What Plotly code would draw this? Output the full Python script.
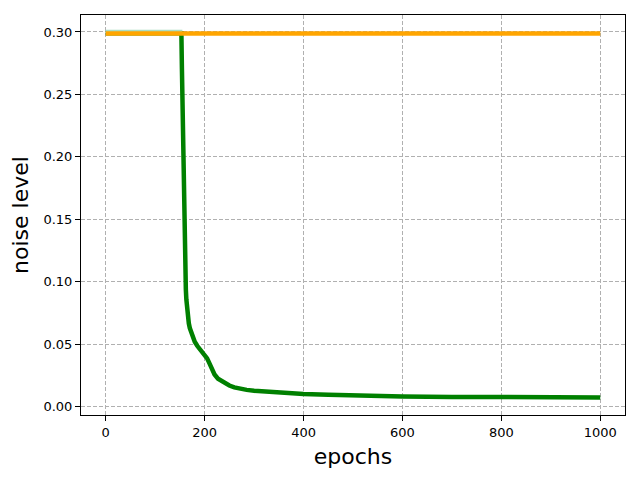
import plotly.graph_objects as go

# data
pale_epochs = [0, 155]
pale_values = [0.3005, 0.3005]

green_epochs = [0, 153, 154, 155, 156, 157, 158, 159, 160, 161, 162, 163, 164, 165, 166, 168,
                170, 173, 176, 180, 185, 190, 195, 200, 205, 210, 215, 220, 227, 234, 242, 250,
                260, 270, 285, 300, 330, 358, 400, 450, 493, 550, 600, 700, 800, 900, 1000]
green_values = [0.299, 0.299, 0.272, 0.245, 0.215, 0.185, 0.16, 0.138, 0.12, 0.105, 0.094, 0.086,
                0.08, 0.0755, 0.0718, 0.0668, 0.063, 0.0588, 0.0555, 0.052, 0.0488, 0.0462,
                0.0441, 0.0417, 0.0387, 0.0345, 0.0297, 0.0258, 0.0225, 0.0205, 0.0185, 0.017,
                0.0155, 0.0145, 0.0135, 0.0128, 0.0118, 0.0112, 0.0103, 0.0096, 0.009, 0.0086,
                0.0083, 0.0079, 0.0077, 0.0076, 0.0075]

orange_epochs = [0, 1000]
orange_values = [0.2988, 0.2988]

x_ticks = [0, 200, 400, 600, 800, 1000]
y_ticks = [0.00, 0.05, 0.10, 0.15, 0.20, 0.25, 0.30]

fig = go.Figure()
fig.add_trace(go.Scatter(x=green_epochs, y=green_values, mode="lines",
                         line=dict(color="green", width=4.5), showlegend=False))
fig.add_trace(go.Scatter(x=pale_epochs, y=pale_values, mode="lines",
                         line=dict(color="#a9dcc0", width=3), showlegend=False))
fig.add_trace(go.Scatter(x=orange_epochs, y=orange_values, mode="lines",
                         line=dict(color="orange", width=4.5), showlegend=False))

axis_common = dict(
    showline=True, linecolor="black", linewidth=1, mirror=True,
    ticks="outside", ticklen=5, tickcolor="black",
    showgrid=True, gridcolor="#b0b0b0", griddash="4px,2px", gridwidth=1,
    zeroline=False,
    tickfont=dict(family="DejaVu Sans", size=13, color="black"),
)

fig.update_layout(
    width=640, height=480,
    paper_bgcolor="white", plot_bgcolor="white",
    margin=dict(l=73, r=23, t=7, b=73),
    xaxis=dict(range=[-50, 1050], tickvals=x_ticks,
               title=dict(text="epochs", font=dict(family="DejaVu Sans", size=22, color="black"),
                          standoff=10),
               **axis_common),
    yaxis=dict(range=[-0.0066, 0.3136], tickvals=y_ticks, tickformat=".2f",
               title=dict(text="noise level", font=dict(family="DejaVu Sans", size=22, color="black"),
                          standoff=8),
               **axis_common),
)

fig.write_html("out.html")
